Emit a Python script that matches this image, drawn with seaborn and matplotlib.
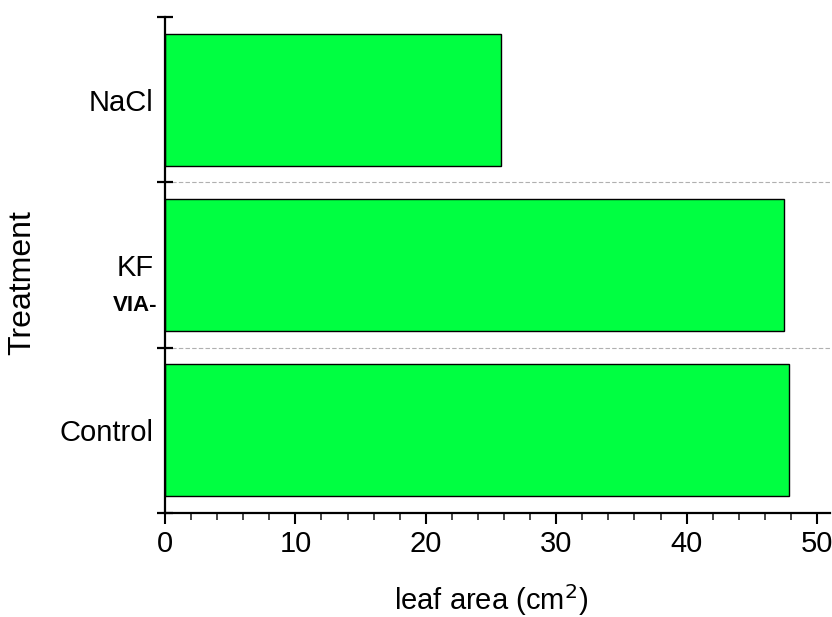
import pandas as pd
import seaborn as sns
import matplotlib.pyplot as plt
from matplotlib.ticker import MultipleLocator

# --- Data ---
treatments = ['NaCl', 'KF', 'Control']
leaf_area = [25.8, 47.5, 47.85]

df = pd.DataFrame({'treatment': treatments, 'leaf_area': leaf_area})

sns.set_style('white')
plt.rcParams['font.family'] = ['Liberation Sans', 'DejaVu Sans']
plt.rcParams['text.color'] = 'black'
plt.rcParams['axes.labelcolor'] = 'black'

fig = plt.figure(figsize=(8.32, 6.17), dpi=100)
ax = fig.add_axes([0.1983, 0.1686, 0.7994, 0.8038])

sns.barplot(data=df, x='leaf_area', y='treatment', order=treatments, orient='h',
            color='#00ff41', saturation=1, width=0.8, edgecolor='black',
            linewidth=1.0, ax=ax)

ax.set_xlim(0, 51)
ax.set_ylim(2.5, -0.5)

# category boundaries
for yb in [0.5, 1.5]:
    ax.axhline(yb, color='#b0b0b0', linestyle=(0, (4, 2)), linewidth=0.8, zorder=0)

ax.set_yticks([0, 1, 2])
ax.set_yticklabels(treatments)
ax.set_yticks([-0.5, 0.5, 1.5, 2.5], minor=True)
ax.tick_params(axis='y', which='major', length=0, pad=8, labelsize=21, colors='black')
ax.tick_params(axis='y', which='minor', direction='inout', length=12, width=1.6, color='black', left=True)

ax.xaxis.set_major_locator(MultipleLocator(10))
ax.xaxis.set_minor_locator(MultipleLocator(2))
ax.tick_params(axis='x', which='major', direction='out', length=8, width=1.5,
               bottom=True, labelsize=21, pad=4, colors='black')
ax.tick_params(axis='x', which='minor', direction='out', length=5, width=1.2, bottom=True)

for side in ['top', 'right']:
    ax.spines[side].set_visible(False)
for side in ['left', 'bottom']:
    ax.spines[side].set_linewidth(1.6)
    ax.spines[side].set_color('black')

ax.set_xlabel('leaf area (cm$^2$)', fontsize=21)
ax.set_ylabel('Treatment', fontsize=23)
ax.xaxis.label.set_va('center')
ax.yaxis.label.set_va('center')
ax.xaxis.set_label_coords(0.5 * 0.98, (513 - 600) / 496)
ax.yaxis.set_label_coords((22 - 165) / 665, (513 - 283) / 496)

fig.text(157 / 832, 1 - 305 / 617, 'VIA-', ha='right', va='center',
         fontsize=16, fontweight='bold')

fig.savefig('out.png', dpi=100)
